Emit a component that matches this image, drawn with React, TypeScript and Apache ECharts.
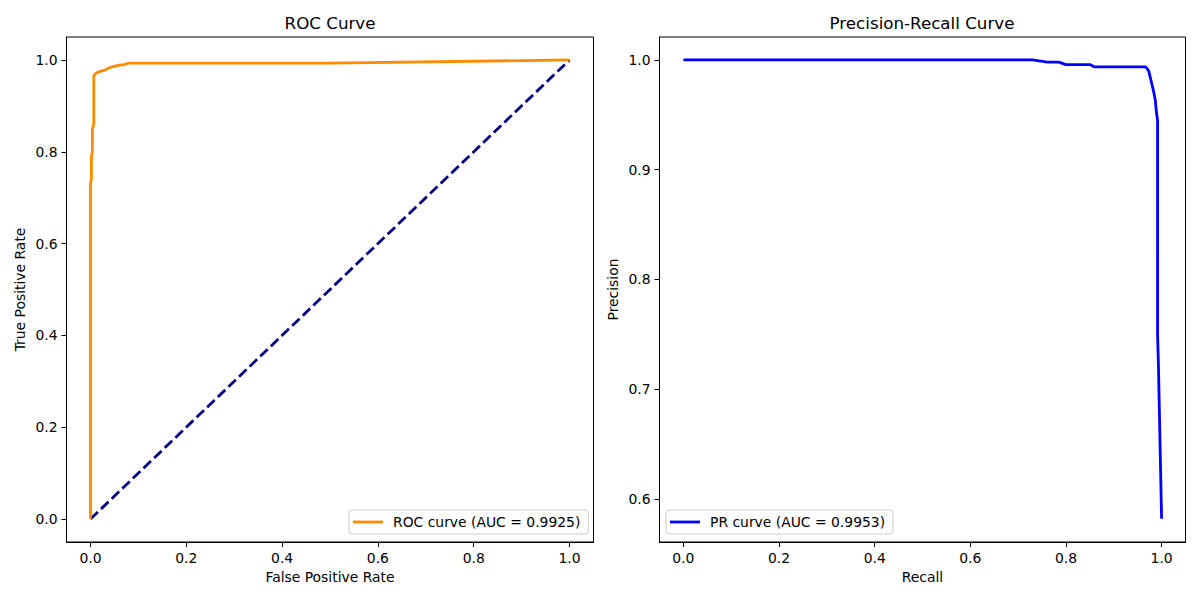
import React, { useEffect, useRef } from "react";
import * as echarts from "echarts";

const rocFpr = [0, 0, 0.002, 0.002, 0.004, 0.004, 0.007, 0.007, 0.01, 0.017, 0.03, 0.042, 0.058, 0.07, 0.08, 0.5, 1.0];
const rocTpr = [0, 0.73, 0.74, 0.79, 0.8, 0.85, 0.86, 0.965, 0.97, 0.974, 0.978, 0.984, 0.988, 0.99, 0.993, 0.993, 1.0];

const prRecall = [0, 0.73, 0.761, 0.785, 0.8, 0.851, 0.86, 0.967, 0.973, 0.978, 0.983, 0.987, 0.989, 0.9916, 0.9916, 0.9935, 1.0];
const prPrecision = [1.0, 1.0, 0.998, 0.998, 0.9957, 0.9957, 0.9936, 0.9936, 0.99, 0.981, 0.972, 0.963, 0.953, 0.945, 0.75, 0.72, 0.582];

const diagX = [0, 1];
const diagY = [0, 1];

const xTicks = [0, 0.2, 0.4, 0.6, 0.8, 1.0];
const rocYTicks = [0, 0.2, 0.4, 0.6, 0.8, 1.0];
const prYTicks = [0.6, 0.7, 0.8, 0.9, 1.0];

const rocLabel = "ROC curve (AUC = 0.9925)";
const prLabel = "PR curve (AUC = 0.9953)";

const FONT = "DejaVu Sans";
const TICK = 13.9;

function zip(a: number[], b: number[]) {
  return a.map((v, i) => [v, b[i]]);
}

function axis(gridIndex: number, min: number, max: number, ticks: number[], name: string, isX: boolean) {
  return {
    type: "value",
    gridIndex,
    min,
    max,
    name,
    nameLocation: "middle",
    nameGap: isX ? 27 : 40,
    nameTextStyle: { fontFamily: FONT, fontSize: TICK, color: "#000" },
    axisLine: { show: true, onZero: false, lineStyle: { color: "#000", width: 1 } },
    axisTick: { show: true, inside: false, length: 5, customValues: ticks, lineStyle: { color: "#000", width: 1 } },
    axisLabel: {
      show: true,
      margin: 9,
      customValues: ticks,
      formatter: (v: number) => v.toFixed(1),
      fontFamily: FONT,
      fontSize: TICK,
      color: "#000",
    },
    splitLine: { show: false },
  };
}

export default function App() {
  const ref = useRef<HTMLDivElement>(null);
  useEffect(() => {
    document.body.style.margin = "0";
    const chart = echarts.init(ref.current!, undefined, { renderer: "svg" });
    const legendCommon = {
      orient: "horizontal",
      itemWidth: 30,
      itemHeight: 2.8,
      icon: "rect",
      padding: [5, 8, 5, 4],
      borderColor: "#cccccc",
      borderWidth: 1,
      borderRadius: 3,
      backgroundColor: "rgba(255,255,255,0.8)",
      textStyle: { fontFamily: FONT, fontSize: TICK, color: "#000", padding: [0, 0, 0, 5] },
      selectedMode: false,
    };
    chart.setOption({
      animation: false,
      backgroundColor: "#fff",
      grid: [
        { left: 66.5, top: 37, width: 527, height: 505, show: true, borderColor: "#000", borderWidth: 1, backgroundColor: "transparent" },
        { left: 659.5, top: 37, width: 526, height: 505, show: true, borderColor: "#000", borderWidth: 1, backgroundColor: "transparent" },
      ],
      xAxis: [
        axis(0, -0.05, 1.05, xTicks, "False Positive Rate", true),
        axis(1, -0.05, 1.05, xTicks, "Recall", true),
      ],
      yAxis: [
        axis(0, -0.05, 1.05, rocYTicks, "True Positive Rate", false),
        axis(1, 0.5608, 1.0209, prYTicks, "Precision", false),
      ],
      legend: [
        { ...legendCommon, data: [rocLabel], left: 349, top: 510 },
        { ...legendCommon, data: [prLabel], left: 666, top: 510 },
      ],
      graphic: [
        { type: "text", x: 330, y: 23, style: { text: "ROC Curve", fontFamily: FONT, fontSize: 16.7, fill: "#000", textAlign: "center", textVerticalAlign: "middle" } },
        { type: "text", x: 922, y: 23, style: { text: "Precision-Recall Curve", fontFamily: FONT, fontSize: 16.7, fill: "#000", textAlign: "center", textVerticalAlign: "middle" } },
      ],
      series: [
        {
          type: "line",
          name: "diagonal",
          xAxisIndex: 0,
          yAxisIndex: 0,
          data: zip(diagX, diagY),
          showSymbol: false,
          symbol: "none",
          lineStyle: { color: "#000080", width: 2.8, type: [10.3, 4.4] },
        },
        {
          type: "line",
          name: rocLabel,
          xAxisIndex: 0,
          yAxisIndex: 0,
          data: zip(rocFpr, rocTpr),
          showSymbol: false,
          symbol: "none",
          lineStyle: { color: "#ff8c00", width: 2.8 },
          itemStyle: { color: "#ff8c00" },
        },
        {
          type: "line",
          name: prLabel,
          xAxisIndex: 1,
          yAxisIndex: 1,
          data: zip(prRecall, prPrecision),
          showSymbol: false,
          symbol: "none",
          lineStyle: { color: "#0000ff", width: 2.8 },
          itemStyle: { color: "#0000ff" },
        },
      ],
    });
    return () => chart.dispose();
  }, []);
  return <div ref={ref} style={{ width: 1200, height: 600 }} />;
}
